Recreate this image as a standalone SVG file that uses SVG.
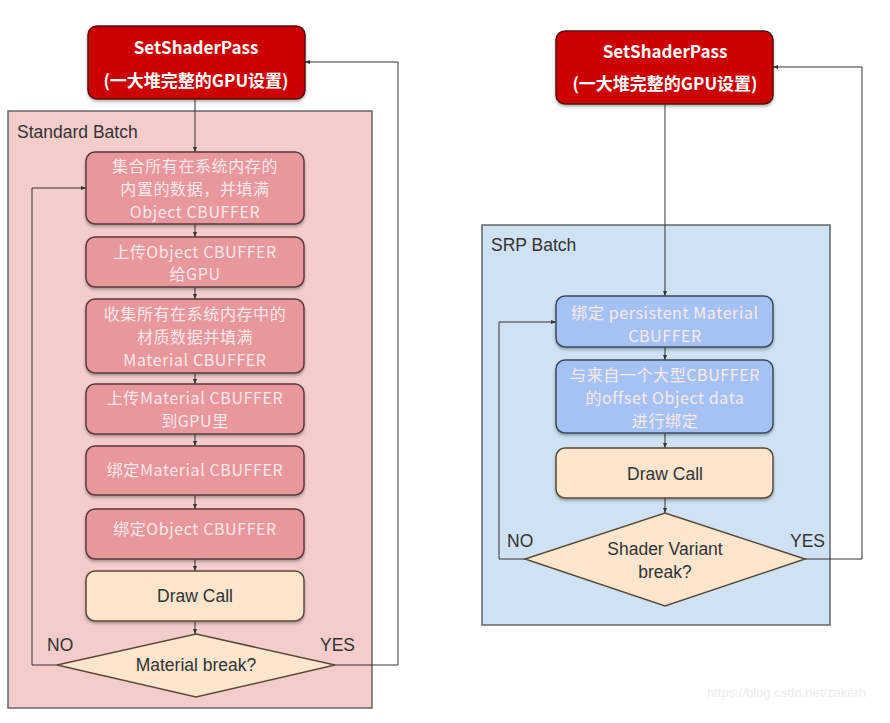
<svg xmlns="http://www.w3.org/2000/svg" width="890" height="723" viewBox="0 0 890 723">
<defs>
<marker id="arr" viewBox="0 0 10 10" refX="10" refY="5" markerWidth="5" markerHeight="5" orient="auto-start-reverse"><path d="M0,1 L10,5 L0,9 z" fill="#333"/></marker>
<filter id="sh" x="-10%" y="-10%" width="120%" height="130%"><feDropShadow dx="0" dy="2" stdDeviation="1.5" flood-color="#000" flood-opacity="0.3"/></filter>
</defs>
<style>
.cont{stroke:#666;stroke-width:1.5}
.head{fill:#cc0000;stroke:#5a1010;stroke-width:1.5}
.pink{fill:#e8979c;stroke:#5b3a3a;stroke-width:1.5}
.blue{fill:#a4c2f4;stroke:#3a4a5b;stroke-width:1.5}
.draw{fill:#fce5cd;stroke:#5b4a3a;stroke-width:1.5}
.t{font-family:"Noto Sans CJK SC","Noto Sans",sans-serif;font-size:17.5px;text-anchor:middle;dominant-baseline:central}
.tw{fill:#fbe8e8;font-size:16px;letter-spacing:0.6px}
.tb{fill:#333;font-family:"Liberation Sans",Arial,sans-serif}
.th{fill:#fff;font-weight:bold;font-size:17px}
.lab{font-family:"Liberation Sans",Arial,sans-serif;font-size:17.5px;fill:#333}
.ln{fill:none;stroke:#333;stroke-width:1}
</style>
<rect width="890" height="723" fill="#fff"/>
<g id="standard-batch">
<rect class="cont" x="8" y="111" width="364" height="597" fill="#f4cccc"/>
<text class="lab" x="17" y="138">Standard Batch</text>
</g>
<g id="srp-batch">
<rect class="cont" x="482" y="225" width="348" height="400" fill="#cfe2f3"/>
<text class="lab" x="491" y="251">SRP Batch</text>
</g>
<g id="connectors">
<path class="ln" d="M195,99 V152" marker-end="url(#arr)"/>
<path class="ln" d="M195,224 V237" marker-end="url(#arr)"/>
<path class="ln" d="M195,287 V299" marker-end="url(#arr)"/>
<path class="ln" d="M195,373 V384" marker-end="url(#arr)"/>
<path class="ln" d="M195,434 V446" marker-end="url(#arr)"/>
<path class="ln" d="M195,495 V509" marker-end="url(#arr)"/>
<path class="ln" d="M195,559 V571" marker-end="url(#arr)"/>
<path class="ln" d="M195,621 V634" marker-end="url(#arr)"/>
<path class="ln" d="M57,665 H32 V188 H86" marker-end="url(#arr)"/>
<path class="ln" d="M335,665 H398 V62 H305" marker-end="url(#arr)"/>
<path class="ln" d="M665,104 V296" marker-end="url(#arr)"/>
<path class="ln" d="M665,347 V360" marker-end="url(#arr)"/>
<path class="ln" d="M665,433 V448" marker-end="url(#arr)"/>
<path class="ln" d="M665,498 V513" marker-end="url(#arr)"/>
<path class="ln" d="M525,559 H499 V322 H556" marker-end="url(#arr)"/>
<path class="ln" d="M805,559 H862 V67 H773" marker-end="url(#arr)"/>
<text class="lab" x="47" y="651">NO</text>
<text class="lab" x="320" y="651">YES</text>
<text class="lab" x="507" y="547">NO</text>
<text class="lab" x="790" y="547">YES</text>
</g>
<g id="left-setshaderpass">
<rect class="head" x="88" y="26" width="217" height="73" rx="9" filter="url(#sh)"/>
<text class="t th" x="196" y="46">SetShaderPass</text>
<text class="t th" x="196" y="79">(一大堆完整的GPU设置)</text>
</g>
<g id="l1">
<rect class="pink" x="86" y="152" width="218" height="72" rx="9" filter="url(#sh)"/>
<text class="t tw" x="195" y="165">集合所有在系统内存的</text>
<text class="t tw" x="195" y="188">内置的数据，并填满</text>
<text class="t tw" x="195" y="211">Object CBUFFER</text>
</g>
<g id="l2">
<rect class="pink" x="86" y="237" width="218" height="50" rx="9" filter="url(#sh)"/>
<text class="t tw" x="195" y="251">上传Object CBUFFER</text>
<text class="t tw" x="195" y="273">给GPU</text>
</g>
<g id="l3">
<rect class="pink" x="86" y="299" width="218" height="74" rx="9" filter="url(#sh)"/>
<text class="t tw" x="195" y="313">收集所有在系统内存中的</text>
<text class="t tw" x="195" y="336">材质数据并填满</text>
<text class="t tw" x="195" y="359">Material CBUFFER</text>
</g>
<g id="l4">
<rect class="pink" x="86" y="384" width="218" height="50" rx="9" filter="url(#sh)"/>
<text class="t tw" x="195" y="397">上传Material CBUFFER</text>
<text class="t tw" x="195" y="420">到GPU里</text>
</g>
<g id="l5">
<rect class="pink" x="86" y="446" width="218" height="49" rx="9" filter="url(#sh)"/>
<text class="t tw" x="195" y="469">绑定Material CBUFFER</text>
</g>
<g id="l6">
<rect class="pink" x="86" y="509" width="218" height="50" rx="9" filter="url(#sh)"/>
<text class="t tw" x="195" y="528">绑定Object CBUFFER</text>
</g>
<g id="l-draw">
<rect class="draw" x="86" y="571" width="218" height="50" rx="9" filter="url(#sh)"/>
<text class="t tb" x="195" y="596">Draw Call</text>
</g>
<g id="l-decision">
<polygon class="draw" points="196,634 335,665 196,697 57,665"/>
<text class="t tb" x="196" y="665">Material break?</text>
</g>
<g id="right-setshaderpass">
<rect class="head" x="556" y="31" width="217" height="73" rx="9" filter="url(#sh)"/>
<text class="t th" x="665" y="50">SetShaderPass</text>
<text class="t th" x="665" y="82">(一大堆完整的GPU设置)</text>
</g>
<g id="r1">
<rect class="blue" x="556" y="296" width="217" height="51" rx="9" filter="url(#sh)"/>
<text class="t tw" x="665" y="312">绑定 persistent Material</text>
<text class="t tw" x="665" y="335">CBUFFER</text>
</g>
<g id="r2">
<rect class="blue" x="556" y="360" width="217" height="73" rx="9" filter="url(#sh)"/>
<text class="t tw" x="665" y="374">与来自一个大型CBUFFER</text>
<text class="t tw" x="665" y="397">的offset Object data</text>
<text class="t tw" x="665" y="420">进行绑定</text>
</g>
<g id="r-draw">
<rect class="draw" x="556" y="448" width="217" height="50" rx="9" filter="url(#sh)"/>
<text class="t tb" x="665" y="474">Draw Call</text>
</g>
<g id="r-decision">
<polygon class="draw" points="665,513 805,559 665,606 525,559"/>
<text class="t tb" x="665" y="549">Shader Variant</text>
<text class="t tb" x="665" y="572">break?</text>
</g>
<text x="707" y="697" font-family="Liberation Sans,Arial,sans-serif" font-size="13" fill="#ececec">https://blog.csdn.net/zakerh</text>
</svg>
